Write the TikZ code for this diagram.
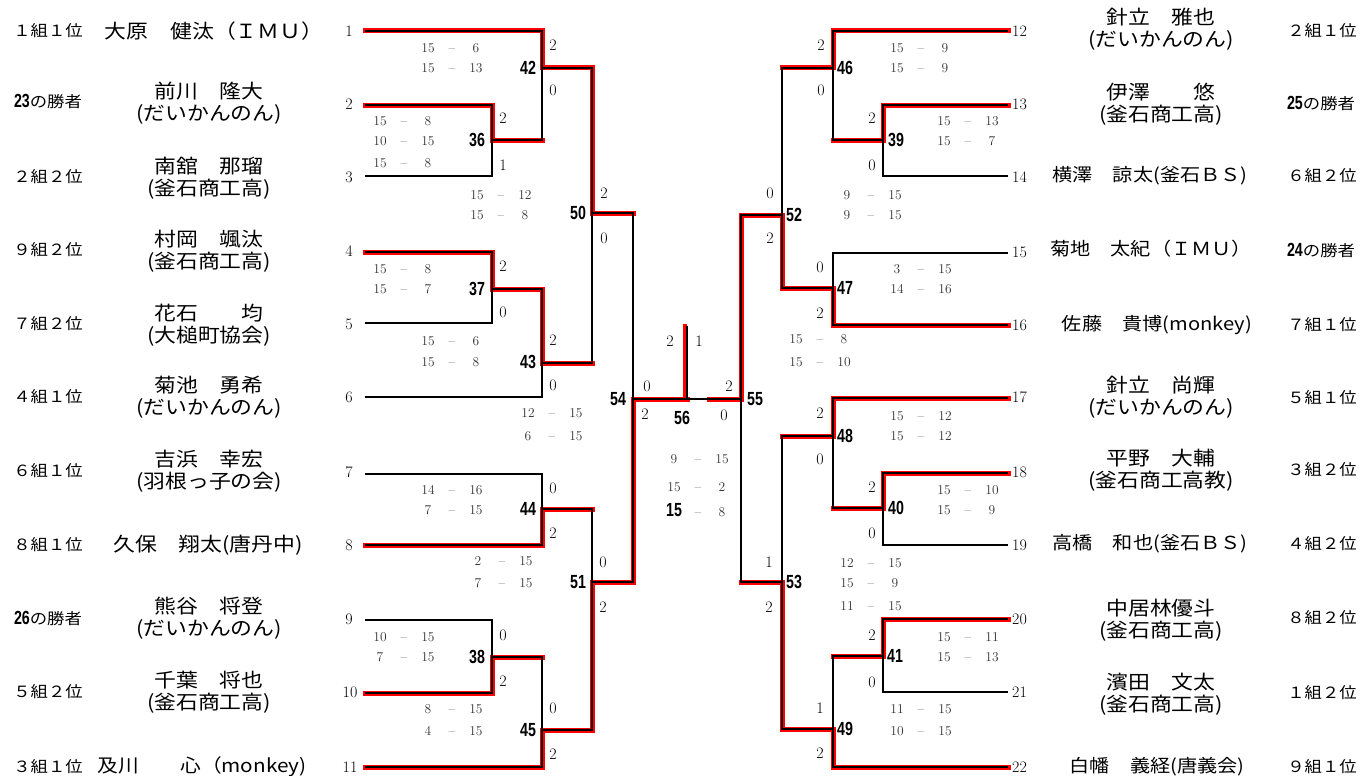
\documentclass[tikz,border=0pt]{standalone}
\usepackage{fontspec}
\newfontfamily\jp{Noto Sans CJK JP}[FakeStretch=1.12]
\newfontfamily\mf{Liberation Sans}[FakeStretch=0.75]
\newcommand\mfn[1]{{\mf\bfseries\fontsize{19}{19}\selectfont #1}}
\newcommand\scline[5]{\node[sc] (#1) at (#2,#3) {\makebox[24pt]{#4}\makebox[24pt]{--}\makebox[24pt]{#5}};}
\begin{document}
\begin{tikzpicture}[x=1pt,y=-1pt,
 blk/.style={line width=2pt},
 redl/.style={line width=5pt,draw=red,line cap=rect},
 ul/.style={shift={(-1.5,-1.5)}},
 ur/.style={shift={(1.5,-1.5)}},
 dl/.style={shift={(-1.5,1.5)}},
 dr/.style={shift={(1.5,1.5)}},
 up/.style={shift={(0,-1.5)}},
 dn/.style={shift={(0,1.5)}},
 nm/.style={font=\jp\fontsize{19.5}{22}\selectfont,align=center,inner sep=0pt},
 nms/.style={font=\jp\fontsize{18}{22}\selectfont,inner sep=0pt},
 grp/.style={font=\jp\fontsize{15.5}{18}\selectfont,inner sep=0pt},
 pn/.style={font=\fontsize{16}{16}\selectfont,inner sep=0pt},
 gs/.style={font=\fontsize{16}{16}\selectfont,inner sep=0pt},
 mn/.style={font=\mf\bfseries\fontsize{19}{19}\selectfont,inner sep=0pt},
 sc/.style={font=\fontsize{13.5}{13.5}\selectfont,text=black!80,inner sep=0pt}]
\useasboundingbox (0,0) rectangle (1365,776);
% player line ends
\coordinate (p1) at (365,31);
\coordinate (p2) at (365,105);
\coordinate (p3) at (365,176);
\coordinate (p4) at (365,252);
\coordinate (p5) at (365,323);
\coordinate (p6) at (365,397);
\coordinate (p7) at (365,474);
\coordinate (p8) at (365,545);
\coordinate (p9) at (365,620);
\coordinate (p10) at (365,693);
\coordinate (p11) at (365,767);
\coordinate (p12) at (1008,31);
\coordinate (p13) at (1008,105);
\coordinate (p14) at (1008,176);
\coordinate (p15) at (1008,253);
\coordinate (p16) at (1008,325);
\coordinate (p17) at (1008,398);
\coordinate (p18) at (1008,473);
\coordinate (p19) at (1008,545);
\coordinate (p20) at (1008,619);
\coordinate (p21) at (1008,692);
\coordinate (p22) at (1008,767);
% match junctions
\coordinate (m36) at (492,140);
\coordinate (m42) at (542,68);
\coordinate (m37) at (492,289);
\coordinate (m43) at (542,363);
\coordinate (m50) at (592,213);
\coordinate (m44) at (542,509);
\coordinate (m38) at (492,657);
\coordinate (m45) at (542,730);
\coordinate (m51) at (592,582);
\coordinate (m54) at (633,399);
\coordinate (m56) at (687,399);
\coordinate (top56) at (687,326);
\coordinate (m55) at (741,399);
\coordinate (r55) at (709,399);
\coordinate (m39) at (883,140);
\coordinate (m46) at (833,68);
\coordinate (m47) at (833,288);
\coordinate (m52) at (782,215);
\coordinate (m40) at (883,508);
\coordinate (m48) at (833,436);
\coordinate (m41) at (883,656);
\coordinate (m49) at (833,729);
\coordinate (m53) at (782,582);
% red winner paths
\draw[redl,ur] (p2) -| (m36);
\draw[redl,ur] (p1) -| (m42);
\draw[redl,dn] (m36) -- (m36 -| m42);
\draw[redl,ur] (p4) -| (m37);
\draw[redl,ur] (m37) -| (m43);
\draw[redl,ur] (m42) -| (m50);
\draw[redl,dn] (m43) -- (m43 -| m50);
\draw[redl,dr] (p8) -| (m44);
\draw[redl,dr] (p10) -| (m38);
\draw[redl,dr] (p11) -| (m45);
\draw[redl,up] (m38) -- (m38 -| m45);
\draw[redl,dr] (m45) -| (m51);
\draw[redl,up] (m44) -- (m44 -| m51);
\draw[redl,dr] (m51) -| (m54);
\draw[redl,up] (m50) -- (m50 -| m54);
\draw[redl,up] (m54) -- (m56);
\draw[redl,line width=3.5pt] ([xshift=-2pt]m56) -- ([xshift=-2pt]top56);
\draw[redl,up] (m55) -- (r55);
\draw[redl,ul] (p13) -| (m39);
\draw[redl,ul] (p12) -| (m46);
\draw[redl,dn] (m39) -- (m39 -| m46);
\draw[redl,dl] (p16) -| (m47);
\draw[redl,dl] (m47) -| (m52);
\draw[redl,up] (m46) -- (m46 -| m52);
\draw[redl,ul] (p18) -| (m40);
\draw[redl,ul] (p17) -| (m48);
\draw[redl,dn] (m40) -- (m40 -| m48);
\draw[redl,ul] (p20) -| (m41);
\draw[redl,dl] (p22) -| (m49);
\draw[redl,up] (m41) -- (m41 -| m49);
\draw[redl,dl] (m49) -| (m53);
\draw[redl,up] (m48) -- (m48 -| m53);
\draw[redl,ul] (m52) -| (m55);
\draw[redl,dn] (m53) -- (m53 -| m55);
% black bracket
\draw[blk] (p2) -| (m36) (p3) -| (m36);
\draw[blk] (p1) -| (m42) (m36) -| (m42);
\draw[blk] (p4) -| (m37) (p5) -| (m37);
\draw[blk] (m37) -| (m43) (p6) -| (m43);
\draw[blk] (m42) -| (m50) (m43) -| (m50);
\draw[blk] (p7) -| (m44) (p8) -| (m44);
\draw[blk] (p9) -| (m38) (p10) -| (m38);
\draw[blk] (m38) -| (m45) (p11) -| (m45);
\draw[blk] (m44) -| (m51) (m45) -| (m51);
\draw[blk] (m50) -| (m54) (m51) -| (m54);
\draw[blk] (m54) -- (m55) (m56) -- (top56);
\draw[blk] (p13) -| (m39) (p14) -| (m39);
\draw[blk] (p12) -| (m46) (m39) -| (m46);
\draw[blk] (p15) -| (m47) (p16) -| (m47);
\draw[blk] (m46) -| (m52) (m47) -| (m52);
\draw[blk] (p18) -| (m40) (p19) -| (m40);
\draw[blk] (p17) -| (m48) (m40) -| (m48);
\draw[blk] (p20) -| (m41) (p21) -| (m41);
\draw[blk] (m41) -| (m49) (p22) -| (m49);
\draw[blk] (m48) -| (m53) (m49) -| (m53);
\draw[blk] (m52) -| (m55) (m53) -| (m55);
% player numbers
\node[pn] (pn1) at (349,31) {1};
\node[pn] (pn2) at (349,104) {2};
\node[pn] (pn3) at (349,177) {3};
\node[pn] (pn4) at (349,251) {4};
\node[pn] (pn5) at (349,324) {5};
\node[pn] (pn6) at (349,397) {6};
\node[pn] (pn7) at (349,472) {7};
\node[pn] (pn8) at (349,545) {8};
\node[pn] (pn9) at (349,619) {9};
\node[pn] (pn10) at (350,692) {10};
\node[pn] (pn11) at (350,767) {11};
\node[pn,anchor=west] (pn12) at (1012,31) {12};
\node[pn,anchor=west] (pn13) at (1012,104) {13};
\node[pn,anchor=west] (pn14) at (1012,177) {14};
\node[pn,anchor=west] (pn15) at (1012,252) {15};
\node[pn,anchor=west] (pn16) at (1012,325) {16};
\node[pn,anchor=west] (pn17) at (1012,397) {17};
\node[pn,anchor=west] (pn18) at (1012,472) {18};
\node[pn,anchor=west] (pn19) at (1012,545) {19};
\node[pn,anchor=west] (pn20) at (1012,619) {20};
\node[pn,anchor=west] (pn21) at (1012,692) {21};
\node[pn,anchor=west] (pn22) at (1012,767) {22};
% left names
\node[grp] (gl1) at (48,31) {１組１位};
\node[nm] (n1) at (214,31) {大原　健汰（ＩＭＵ）};
\node[grp] (gl2) at (48,102) {\mfn{23}の勝者};
\node[nm] (n2) at (209,103) {前川　隆大\\(だいかんのん)};
\node[grp] (gl3) at (48,177) {２組２位};
\node[nm] (n3) at (209,178) {南舘　那瑠\\(釜石商工高)};
\node[grp] (gl4) at (48,250) {９組２位};
\node[nm] (n4) at (209,251) {村岡　颯汰\\(釜石商工高)};
\node[grp] (gl5) at (48,324) {７組２位};
\node[nm] (n5) at (209,325) {花石　　均\\(大槌町協会)};
\node[grp] (gl6) at (48,397) {４組１位};
\node[nm] (n6) at (209,397) {菊池　勇希\\(だいかんのん)};
\node[grp] (gl7) at (48,471) {６組１位};
\node[nm] (n7) at (209,471) {吉浜　幸宏\\(羽根っ子の会)};
\node[grp] (gl8) at (48,545) {８組１位};
\node[nm] (n8) at (208,545) {久保　翔太(唐丹中)};
\node[grp] (gl9) at (48,618) {\mfn{26}の勝者};
\node[nm] (n9) at (209,618) {熊谷　将登\\(だいかんのん)};
\node[grp] (gl10) at (48,692) {５組２位};
\node[nm] (n10) at (209,692) {千葉　将也\\(釜石商工高)};
\node[grp] (gl11) at (48,767) {３組１位};
\node[nms,font=\jp\fontsize{18.5}{22}\selectfont] (n11) at (202,767) {及川　　心（monkey)};
% right names
\node[nm] (n12) at (1161,29) {針立　雅也\\(だいかんのん)};
\node[grp] (gl12) at (1322,31) {２組１位};
\node[nm] (n13) at (1161,104) {伊澤　　悠\\(釜石商工高)};
\node[grp] (gl13) at (1321,104) {\mfn{25}の勝者};
\node[nms] (n14) at (1150,176) {横澤　諒太(釜石ＢＳ)};
\node[grp] (gl14) at (1322,176) {６組２位};
\node[nms] (n15) at (1151,249) {菊地　太紀（ＩＭＵ）};
\node[grp] (gl15) at (1321,250) {\mfn{24}の勝者};
\node[nms] (n16) at (1157,325) {佐藤　貴博(monkey)};
\node[grp] (gl16) at (1322,325) {７組１位};
\node[nm] (n17) at (1161,397) {針立　尚輝\\(だいかんのん)};
\node[grp] (gl17) at (1322,398) {５組１位};
\node[nm] (n18) at (1161,470) {平野　大輔\\(釜石商工高教)};
\node[grp] (gl18) at (1322,470) {３組２位};
\node[nms] (n19) at (1150,544) {高橋　和也(釜石ＢＳ)};
\node[grp] (gl19) at (1322,544) {４組２位};
\node[nm] (n20) at (1161,620) {中居林優斗\\(釜石商工高)};
\node[grp] (gl20) at (1322,618) {８組２位};
\node[nm] (n21) at (1161,694) {濱田　文太\\(釜石商工高)};
\node[grp] (gl21) at (1322,693) {１組２位};
\node[nms] (n22) at (1157,767) {白幡　義経(唐義会)};
\node[grp] (gl22) at (1322,767) {９組１位};
% match numbers
\node[mn] (l42) at (528,68) {42};
\node[mn] (l36) at (477,140) {36};
\node[mn] (l50) at (578,213) {50};
\node[mn] (l37) at (477,289) {37};
\node[mn] (l43) at (528,362) {43};
\node[mn] (l54) at (618,399) {54};
\node[mn] (l44) at (528,509) {44};
\node[mn] (l51) at (578,582) {51};
\node[mn] (l38) at (477,657) {38};
\node[mn] (l45) at (528,730) {45};
\node[mn] (l56) at (682,418) {56};
\node[mn] (l55) at (755,399) {55};
\node[mn] (l46) at (845,68) {46};
\node[mn] (l39) at (896,140) {39};
\node[mn] (l52) at (794,215) {52};
\node[mn] (l47) at (845,288) {47};
\node[mn] (l48) at (845,436) {48};
\node[mn] (l40) at (896,508) {40};
\node[mn] (l53) at (794,582) {53};
\node[mn] (l41) at (895,656) {41};
\node[mn] (l49) at (845,729) {49};
% game scores
\node[gs] (g42a) at (553,45) {2};   \node[gs] (g42b) at (553,90) {0};
\node[gs] (g36a) at (503,118) {2};  \node[gs] (g36b) at (503,165) {1};
\node[gs] (g50a) at (604,193) {2};  \node[gs] (g50b) at (604,238) {0};
\node[gs] (g37a) at (503,266) {2};  \node[gs] (g37b) at (503,312) {0};
\node[gs] (g43a) at (553,340) {2};  \node[gs] (g43b) at (553,385) {0};
\node[gs] (g54a) at (647,386) {0};  \node[gs] (g54b) at (645,414) {2};
\node[gs] (g44a) at (553,488) {0};  \node[gs] (g44b) at (553,533) {2};
\node[gs] (g51a) at (603,562) {0};  \node[gs] (g51b) at (603,607) {2};
\node[gs] (g38a) at (503,635) {0};  \node[gs] (g38b) at (503,681) {2};
\node[gs] (g45a) at (553,708) {0};  \node[gs] (g45b) at (553,754) {2};
\node[gs] (g56a) at (670,341) {2};  \node[gs] (g56b) at (699,341) {1};
\node[gs] (g55a) at (729,386) {2};  \node[gs] (g55b) at (724,415) {0};
\node[gs] (g46a) at (821,45) {2};   \node[gs] (g46b) at (821,90) {0};
\node[gs] (g39a) at (872,118) {2};  \node[gs] (g39b) at (872,165) {0};
\node[gs] (g52a) at (770,193) {0};  \node[gs] (g52b) at (770,238) {2};
\node[gs] (g47a) at (820,267) {0};  \node[gs] (g47b) at (820,313) {2};
\node[gs] (g48a) at (820,413) {2};  \node[gs] (g48b) at (820,459) {0};
\node[gs] (g40a) at (872,487) {2};  \node[gs] (g40b) at (872,533) {0};
\node[gs] (g53a) at (769,562) {1};  \node[gs] (g53b) at (769,607) {2};
\node[gs] (g41a) at (872,635) {2};  \node[gs] (g41b) at (872,682) {0};
\node[gs] (g49a) at (820,708) {1};  \node[gs] (g49b) at (820,753) {2};
% set scores
\scline{s42a}{452}{48}{15}{6}
\scline{s42b}{452}{68}{15}{13}
\scline{s36a}{404}{121}{15}{8}
\scline{s36b}{404}{141}{10}{15}
\scline{s36c}{404}{163}{15}{8}
\scline{s50a}{501}{195}{15}{12}
\scline{s50b}{501}{215}{15}{8}
\scline{s37a}{404}{269}{15}{8}
\scline{s37b}{404}{289}{15}{7}
\scline{s43a}{452}{341}{15}{6}
\scline{s43b}{452}{362}{15}{8}
\scline{s54a}{552}{413}{12}{15}
\scline{s54b}{552}{436}{6}{15}
\scline{s44a}{452}{490}{14}{16}
\scline{s44b}{452}{510}{7}{15}
\scline{s51a}{502}{561}{2}{15}
\scline{s51b}{502}{583}{7}{15}
\scline{s38a}{404}{637}{10}{15}
\scline{s38b}{404}{657}{7}{15}
\scline{s45a}{452}{709}{8}{15}
\scline{s45b}{452}{731}{4}{15}
\scline{s56a}{698}{459}{9}{15}
\scline{s56b}{698}{487}{15}{2}
\scline{s56c}{698}{510}{\textcolor{black}{\mfn{15}}}{8}
\scline{s46a}{921}{48}{15}{9}
\scline{s46b}{921}{68}{15}{9}
\scline{s39a}{968}{121}{15}{13}
\scline{s39b}{968}{141}{15}{7}
\scline{s52a}{871}{195}{9}{15}
\scline{s52b}{871}{215}{9}{15}
\scline{s47a}{921}{269}{3}{15}
\scline{s47b}{921}{289}{14}{16}
\scline{s55a}{820}{339}{15}{8}
\scline{s55b}{820}{362}{15}{10}
\scline{s48a}{921}{416}{15}{12}
\scline{s48b}{921}{436}{15}{12}
\scline{s40a}{968}{490}{15}{10}
\scline{s40b}{968}{510}{15}{9}
\scline{s53a}{871}{563}{12}{15}
\scline{s53b}{871}{583}{15}{9}
\scline{s53c}{871}{606}{11}{15}
\scline{s41a}{968}{637}{15}{11}
\scline{s41b}{968}{657}{15}{13}
\scline{s49a}{921}{709}{11}{15}
\scline{s49b}{921}{731}{10}{15}
\end{tikzpicture}
\end{document}
